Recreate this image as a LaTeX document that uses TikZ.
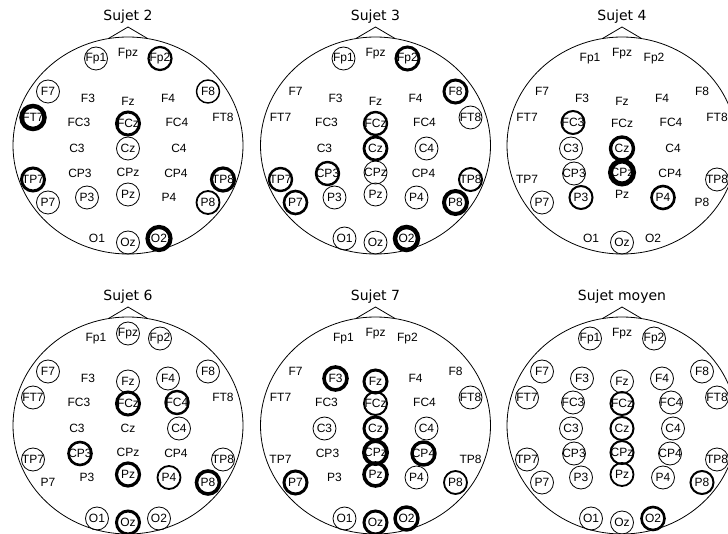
\documentclass[tikz,border=0pt]{standalone}
\usepackage{fontspec}
\setmainfont{Liberation Sans}
\newfontfamily\titlefont{DejaVu Sans}
\tikzset{elec/.style={font=\fontsize{12}{12}\selectfont,inner sep=0pt},
 ring/.style={draw,circle,minimum size=23pt,inner sep=0pt},
 scalp/.style={draw,line width=0.8pt},
 headtitle/.style={font=\titlefont\fontsize{14}{14}\selectfont,inner sep=0pt}}

% electrode positions relative to head centre (px, y downwards)
\newcommand{\electrodes}{Fp1/-32/-87, Fpz/0/-92, Fp2/32/-87,
 F7/-80/-54, F3/-40/-47, Fz/0/-44, F4/40/-47, F8/80/-54,
 FT7/-95/-28, FC3/-49/-23, FCz/0/-22, FC4/49/-23, FT8/95/-28,
 C3/-51/3, Cz/0/3, C4/51/3,
 TP7/-95/34, CP3/-48/28, CPz/0/27, CP4/48/28, TP8/95/34,
 P7/-80/57, P3/-41/52, Pz/0/49, P4/41/52, P8/80/57,
 O1/-31/93, Oz/0/97, O2/31/93}

% #1 name, #2 x, #3 y, #4 title
\newcommand{\drawhead}[4]{%
 \begin{scope}[shift={(#2,#3)}]
  \draw[scalp] (0,0) ellipse (115 and 108.5);
  \draw[scalp] (-19.5,-107) -- (0,-118.5) -- (19.5,-107);
  \node[headtitle] (#1-title) at (0,-128.5) {#4};
  \foreach \n/\x/\y in \electrodes {\node[elec] (#1-\n) at (\x,\y) {\n};}
 \end{scope}}

% #1 head name, #2 list electrode/line width
\newcommand{\rings}[2]{%
 \foreach \n/\w in {#2} {\node[ring,line width=\w pt] at (#1-\n) {};}}

\begin{document}
\begin{tikzpicture}[x=1pt,y=-1pt]
\useasboundingbox (0,0) rectangle (728,534);

\drawhead{s2}{128}{145.5}{Sujet 2}
\drawhead{s3}{375.5}{145.5}{Sujet 3}
\drawhead{s4}{622}{145.5}{Sujet 4}
\drawhead{s6}{128}{425.5}{Sujet 6}
\drawhead{s7}{375.5}{425.5}{Sujet 7}
\drawhead{sm}{622}{425.5}{Sujet moyen}

\rings{s2}{Fp1/0.8, Fp2/2.2, F7/0.8, F8/1.4, FT7/4.5, FCz/3, Cz/0.8, TP7/3,
 TP8/3.2, P7/0.8, P3/0.8, Pz/0.8, P8/1.8, Oz/0.8, O2/4.2}
\rings{s3}{Fp1/0.8, Fp2/3, F8/3, FCz/2.4, FT8/0.8, Cz/2.8, C4/0.8, TP7/2.4,
 CP3/2.4, CPz/0.8, TP8/2, P7/2.6, P3/0.8, Pz/0.8, P4/0.8, P8/4, O1/0.8,
 Oz/0.8, O2/4.5}
\rings{s4}{FC3/2, C3/0.8, Cz/3.4, CP3/0.8, CPz/5, TP8/0.8, P7/0.8, P3/2,
 P4/2.6, Oz/0.8}
\rings{s6}{Fpz/0.8, Fp2/0.8, F7/0.8, Fz/0.8, F4/0.8, F8/0.8, FT7/0.8, FCz/3,
 FC4/2.4, C4/0.8, TP7/0.8, CP3/2.6, TP8/0.8, Pz/3.2, P4/1.8, P8/3.6, O1/0.8,
 Oz/3, O2/0.8}
\rings{s7}{F3/3.6, Fz/3, FCz/2, FT8/0.8, C3/0.8, Cz/3, C4/0.8, CPz/4, CP4/3.4,
 P7/3, Pz/3.6, P4/0.8, P8/1.8, O1/0.8, Oz/3, O2/3.4}
\rings{sm}{Fp1/0.8, Fp2/0.8, F7/0.8, F3/0.8, Fz/0.8, F4/0.8, F8/0.8, FT7/0.8,
 FC3/0.8, FCz/2, FC4/0.8, FT8/0.8, C3/0.8, Cz/2, C4/0.8, TP7/0.8, CP3/0.8,
 CPz/2, CP4/0.8, TP8/0.8, P7/0.8, P3/0.8, Pz/1.8, P4/0.8, P8/2, O1/0.8,
 Oz/0.8, O2/2.6}
\end{tikzpicture}
\end{document}
